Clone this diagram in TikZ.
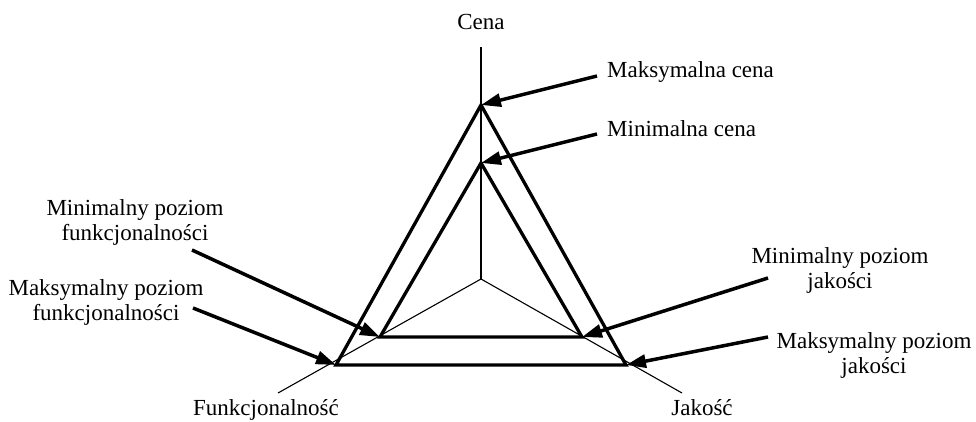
\documentclass[tikz,border=0pt]{standalone}
\usepackage{fontspec}
\setmainfont{Liberation Serif}
\usetikzlibrary{arrows.meta}
\begin{document}
\begin{tikzpicture}[x=1pt,y=-1pt,
  axis/.style={line width=1.1pt},
  tri/.style={line width=3.3pt},
  pointer/.style={line width=3.5pt,-{Triangle[length=20pt,width=13pt]}},
  lbl/.style={inner sep=0pt,font=\fontsize{23}{25}\selectfont,align=center}]
\useasboundingbox (0,0) rectangle (976,422);

% axes
\coordinate (O) at (481,279);
\coordinate (aC) at (481,47);
\coordinate (aF) at (278,393);
\coordinate (aJ) at (682,393);
\draw[axis] (O) -- (aC);
\draw[axis] (O) -- (aF);
\draw[axis] (O) -- (aJ);

% outer (maximum) triangle
\coordinate (maxC) at (481,105);
\coordinate (maxF) at (336,365);
\coordinate (maxJ) at (626,365);
\draw[tri] (maxC) -- (maxF) -- (maxJ) -- cycle;

% inner (minimum) triangle
\coordinate (minC) at (481,163);
\coordinate (minF) at (380,337);
\coordinate (minJ) at (582,337);
\draw[tri] (minC) -- (minF) -- (minJ) -- cycle;

% axis names
\node[lbl,anchor=base] (cena) at (481,30) {Cena};
\node[lbl,anchor=base] (funk) at (266,415) {Funkcjonalność};
\node[lbl,anchor=base] (jak) at (702,415) {Jakość};

% pointer labels
\node[lbl,anchor=base west] (tMaxC) at (607,78) {Maksymalna cena};
\node[lbl,anchor=base west] (tMinC) at (607,137) {Minimalna cena};
\node[lbl] (tMinF) at (135,222) {Minimalny poziom\\funkcjonalności};
\node[lbl] (tMaxF) at (106,302) {Maksymalny poziom\\funkcjonalności};
\node[lbl] (tMinJ) at (840,270) {Minimalny poziom\\jakości};
\node[lbl] (tMaxJ) at (874,355) {Maksymalny poziom\\jakości};

% pointer tails
\coordinate (pMaxC) at (597,76);
\coordinate (pMinC) at (597,134);
\coordinate (pMinF) at (192,250);
\coordinate (pMaxF) at (193,308);
\coordinate (pMinJ) at (768,278);
\coordinate (pMaxJ) at (768,337);

\draw[pointer] (pMaxC) -- (maxC);
\draw[pointer] (pMinC) -- (minC);
\draw[pointer] (pMinF) -- (minF);
\draw[pointer] (pMaxF) -- (maxF);
\draw[pointer] (pMinJ) -- (minJ);
\draw[pointer] (pMaxJ) -- (maxJ);
\end{tikzpicture}
\end{document}
